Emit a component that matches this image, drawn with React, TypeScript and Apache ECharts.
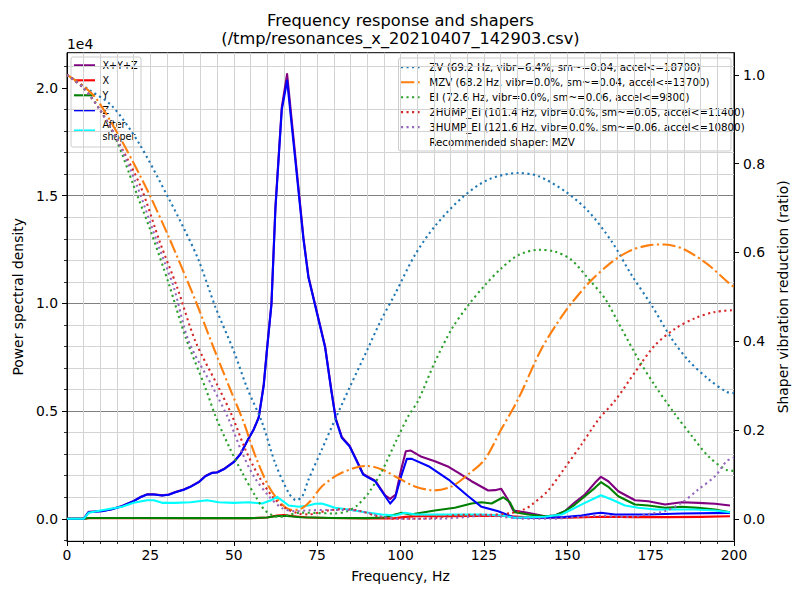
import React, { useEffect, useRef } from "react";
import * as echarts from "echarts";

const TITLE_1 = "Frequency response and shapers";
const TITLE_2 = "(/tmp/resonances_x_20210407_142903.csv)";
const X_NAME = "Frequency, Hz";
const Y_NAME = "Power spectral density";
const Y2_NAME = "Shaper vibration reduction (ratio)";
const psdTicks = [0, 5000, 10000, 15000, 20000];
const ratioTicks = [0, 0.2, 0.4, 0.6, 0.8, 1.0];

const psdLabels = ["X+Y+Z", "X", "Y", "Z", "After\nshaper"];
const psdColors = ["#800080", "#ff0000", "#008000", "#0000ff", "#00ffff"];

const shaperLabels = [
  "ZV (69.2 Hz, vibr=6.4%, sm~=0.04, accel<=18700)",
  "MZV (68.2 Hz, vibr=0.0%, sm~=0.04, accel<=13700)",
  "EI (72.6 Hz, vibr=0.0%, sm~=0.06, accel<=9800)",
  "2HUMP_EI (101.4 Hz, vibr=0.0%, sm~=0.05, accel<=11400)",
  "3HUMP_EI (121.6 Hz, vibr=0.0%, sm~=0.06, accel<=10800)",
];
const shaperColors = ["#1f77b4", "#ff7f0e", "#2ca02c", "#d62728", "#9467bd"];
const recommended = "Recommended shaper: MZV";

const psdSum: [number, number][] = [
  [0, 0], [5, 0], [6.5, 320], [10.5, 360], [13.5, 450], [16.5, 600], [20, 830], [22, 1010], [24, 1135],
  [26, 1140], [28.5, 1090], [30.5, 1130], [32.5, 1245], [35, 1360], [37, 1495], [39.5, 1710], [41.5, 1990],
  [43.5, 2140], [45, 2160], [47, 2310], [50, 2640], [52, 3010], [54.4, 3720], [56, 4160], [57.5, 4720],
  [59, 6250], [60, 7950], [61.3, 10000], [62.5, 14500], [64.4, 19100], [66, 20650], [70.9, 13050],
  [72.4, 11250], [77.4, 8000], [79.2, 6050], [80.6, 4650], [82.4, 3800], [84.7, 3400], [86.5, 2830],
  [88.8, 2080], [90.5, 1930], [92.4, 1770], [95.4, 1090], [96.9, 928], [98.6, 1128], [100.2, 2288],
  [101.6, 3137], [103.1, 3169], [106.3, 2877], [110.3, 2673], [114.4, 2413], [117.4, 2134], [121.3, 1745],
  [126.3, 1313], [128.3, 1330], [130.2, 1392], [132.2, 896], [133.8, 385], [137.3, 300], [140, 220],
  [143.3, 121], [146.3, 153], [149.3, 353], [152.3, 770], [155.3, 1128], [158.3, 1671], [160.1, 1949],
  [162.3, 1745], [165.3, 1281], [170.3, 863], [174.3, 817], [179.3, 664], [184.3, 770], [189.3, 742],
  [194.3, 696], [198.8, 617],
];

const psdX: [number, number][] = [
  [0, 0], [5, 0], [6.5, 30], [30, 25], [55, 25], [60, 60], [63, 150], [65, 170], [68, 121], [72, 60],
  [78, 40], [90, 20], [98, 20], [101.4, 90], [105, 120], [115, 120], [128, 150], [133, 120], [140, 60],
  [150, 50], [160.5, 93], [170, 80], [180, 80], [190, 90], [198.8, 121],
];

const psdY: [number, number][] = [
  [0, 0], [5, 0], [6.5, 40], [20, 40], [40, 30], [55, 30], [60, 60], [63, 130], [66, 130], [70, 70],
  [80, 40], [90, 30], [95, 60], [98.4, 200], [100.4, 278], [103, 200], [110.3, 385], [116.3, 510],
  [121.3, 710], [124.3, 770], [127.3, 710], [130.8, 1002], [132.8, 770], [134.3, 306], [138.3, 200],
  [143.3, 121], [146.3, 153], [149.3, 353], [152.3, 664], [155.3, 1049], [158.3, 1438], [160.1, 1700],
  [162.3, 1485], [165.3, 1049], [170.3, 664], [174.3, 617], [179.3, 510], [184.3, 557], [189.3, 510],
  [194.3, 432], [198.8, 306],
];

const psdZ: [number, number][] = [
  [0, 0], [5, 0], [6.5, 306], [10.5, 350], [13.5, 440], [16.5, 585], [20, 817], [22, 1000], [24, 1128],
  [26, 1130], [28.5, 1081], [30.5, 1120], [32.5, 1235], [35, 1350], [37, 1485], [39.5, 1700], [41.5, 1977],
  [43.5, 2134], [45, 2150], [47, 2300], [50, 2627], [52, 3000], [54.4, 3712], [56, 4150], [57.5, 4700],
  [59, 6200], [60, 7900], [61.3, 9930], [62.5, 14400], [64.4, 18990], [66, 20350], [70.9, 12970],
  [72.4, 11200], [77.4, 7950], [79.2, 6000], [80.6, 4608], [82.4, 3759], [84.7, 3369], [86.5, 2800],
  [88.8, 2056], [90.5, 1900], [92.4, 1745], [95.4, 1049], [96.9, 710], [98.4, 974], [100.2, 1977],
  [101.9, 2784], [103.4, 2784], [108.4, 2441], [114.4, 1824], [120.3, 1049], [124.3, 557], [129.3, 353],
  [134.2, 46], [144, 46], [149, 80], [154.3, 153], [158, 250], [160.1, 278], [164.3, 200], [174.3, 200],
  [184.3, 246], [198.8, 278],
];

const psdShaped: [number, number][] = [
  [0, 0], [5, 0], [6.5, 278], [10.5, 400], [16.5, 557], [20, 742], [24, 863], [26, 860], [28.5, 742],
  [32.5, 742], [37, 770], [42, 863], [45.5, 770], [50, 742], [54.5, 770], [58.5, 710], [61, 850],
  [63, 1021], [66.5, 617], [69.5, 557], [72.4, 617], [74.5, 700], [76.4, 710], [80.4, 510], [84.4, 432],
  [89.4, 306], [94.4, 200], [98.4, 153], [101.4, 278], [104.4, 200], [110.3, 200], [118.3, 200],
  [124.3, 200], [130.3, 153], [134.3, 46], [140, 80], [143.3, 93], [148.3, 200], [151.3, 432],
  [155.3, 742], [160.1, 1095], [163.3, 896], [167.3, 617], [171.3, 510], [176.3, 432], [182.3, 432],
  [188.3, 432], [194.3, 385], [198.8, 306],
];

const zvVals: [number, number][] = [
  [0, 1.0], [6.5, 0.967], [13.5, 0.93], [21.5, 0.847], [30.2, 0.726], [35, 0.655], [39.5, 0.582],
  [44.5, 0.477], [50, 0.378], [54, 0.295], [58.5, 0.217], [62.4, 0.126], [66.5, 0.058], [68.7, 0.042],
  [70.5, 0.05], [72.4, 0.088], [76.4, 0.156], [80.4, 0.224], [85, 0.3], [90, 0.38], [94, 0.445],
  [98.4, 0.507], [104.3, 0.594], [110.3, 0.659], [118.4, 0.723], [126.3, 0.764], [135.3, 0.779],
  [141.3, 0.772], [149.3, 0.738], [156.3, 0.693], [163.3, 0.625], [169.3, 0.549], [175.3, 0.481],
  [181.3, 0.406], [186.3, 0.357], [192.3, 0.315], [197.8, 0.286], [200, 0.283],
];

const mzvVals: [number, number][] = [
  [0, 1.0], [4, 0.98], [8.5, 0.949], [14.5, 0.877], [20, 0.801], [25, 0.726], [30.5, 0.635],
  [38.5, 0.492], [43.5, 0.394], [48.5, 0.3], [53, 0.217], [56.5, 0.141], [60.5, 0.073], [64.5, 0.032],
  [67.5, 0.02], [70, 0.022], [73, 0.04], [76.4, 0.073], [81.4, 0.1], [86.4, 0.115], [90, 0.119],
  [94.4, 0.111], [99.3, 0.092], [104.3, 0.073], [110.3, 0.064], [115.4, 0.073], [120.3, 0.1],
  [125.3, 0.134], [130.1, 0.2], [135.3, 0.27], [142.3, 0.383], [149.3, 0.466], [156.3, 0.53],
  [162.3, 0.572], [168.3, 0.602], [174.3, 0.616], [179.3, 0.618], [185.3, 0.606], [192.3, 0.572],
  [198.3, 0.532], [200, 0.522],
];

const eiVals: [number, number][] = [
  [0, 1.0], [5, 0.97], [10, 0.92], [15, 0.85], [20, 0.75], [25, 0.65], [30.5, 0.53], [35.5, 0.41],
  [41.5, 0.295], [44.5, 0.232], [48.5, 0.164], [52.5, 0.104], [56.5, 0.051], [59.5, 0.018], [63.5, 0.004],
  [66, 0.008], [70, 0.014], [75, 0.013], [80, 0.012], [84, 0.017], [87, 0.03], [90.4, 0.058],
  [94.4, 0.107], [98.4, 0.171], [102.4, 0.232], [105.3, 0.266], [110.3, 0.353], [115.4, 0.428],
  [120.3, 0.481], [125.3, 0.526], [130.2, 0.564], [135.3, 0.594], [141.3, 0.606], [146.3, 0.602],
  [151.3, 0.583], [156.3, 0.541], [161.3, 0.496], [166.3, 0.428], [171.3, 0.36], [176.3, 0.3],
  [182.3, 0.236], [187.3, 0.187], [192.3, 0.141], [197.8, 0.11], [200, 0.108],
];

const hump2Vals: [number, number][] = [
  [0, 1.0], [5, 0.97], [10, 0.92], [15, 0.855], [22, 0.75], [28, 0.62], [33, 0.522], [38.5, 0.4],
  [45.5, 0.295], [49.5, 0.232], [53.5, 0.156], [57.5, 0.096], [61.5, 0.051], [65.5, 0.024], [69.5, 0.012],
  [72.4, 0.01], [78.4, 0.019], [83.4, 0.022], [88.2, 0.017], [93.4, 0.005], [98.3, 0.0], [104, 0.0],
  [110.3, 0.002], [118.4, 0.009], [126.3, 0.009], [133.3, 0.013], [137.3, 0.022], [139.4, 0.032],
  [144.3, 0.064], [149.3, 0.115], [154.3, 0.168], [159.4, 0.224], [164.3, 0.266], [170.3, 0.33],
  [176.3, 0.391], [182.3, 0.428], [188.3, 0.452], [194.3, 0.466], [200, 0.47],
];

const hump3Vals: [number, number][] = [
  [0, 1.0], [5, 0.97], [10, 0.92], [15, 0.855], [21, 0.75], [27.5, 0.613], [32, 0.522], [36.5, 0.4],
  [43.8, 0.295], [48.5, 0.224], [52.5, 0.149], [56, 0.096], [60.5, 0.051], [64.5, 0.024], [68.5, 0.017],
  [72.4, 0.019], [78.4, 0.02], [83.4, 0.02], [88.2, 0.017], [94.4, 0.005], [100, 0.0], [110, 0.0],
  [120, 0.004], [125, 0.008], [130, 0.005], [135, 0.001], [140, 0.0], [145, 0.0], [150, 0.002],
  [155, 0.005], [160, 0.007], [165, 0.005], [170, 0.005], [174.3, 0.011], [179.3, 0.017], [184.3, 0.036],
  [189.3, 0.066], [194.3, 0.096], [197.8, 0.13], [200, 0.138],
];

const psdSeries = [psdSum, psdX, psdY, psdZ, psdShaped];
const shaperSeries = [zvVals, mzvVals, eiVals, hump2Vals, hump3Vals];
const recommendedIndex = 1;

const FONT = "DejaVu Sans";
const DOT = [2.1, 3.4];
const DASHDOT = [13.3, 3.3, 2.1, 3.3];

export default function App() {
  const ref = useRef<HTMLDivElement>(null);

  useEffect(() => {
    document.body.style.margin = "0";
    if (!ref.current) return;
    const chart = echarts.init(ref.current, null, { renderer: "svg" });

    const series: any[] = [];
    psdSeries.forEach((d, i) => {
      series.push({
        type: "line",
        name: psdLabels[i],
        data: d,
        yAxisIndex: 0,
        showSymbol: false,
        symbol: "none",
        silent: true,
        lineStyle: { color: psdColors[i], width: 2.1, cap: "butt", join: "round" },
        z: 2,
      });
    });
    shaperSeries.forEach((d, i) => {
      series.push({
        type: "line",
        name: shaperLabels[i],
        data: d,
        yAxisIndex: 1,
        showSymbol: false,
        symbol: "none",
        silent: true,
        smooth: 0.3,
        lineStyle: {
          color: shaperColors[i],
          width: 2.1,
          type: i === recommendedIndex ? DASHDOT : DOT,
          cap: "butt",
        },
        z: 3,
      });
    });

    // left legend
    const leftItems: any[] = [
      {
        type: "rect",
        shape: { x: 71, y: 57, width: 70, height: 90, r: 2 },
        style: { fill: "rgba(255,255,255,0.8)", stroke: "#cccccc", lineWidth: 1 },
      },
    ];
    const leftRows = [65.3, 80.3, 95.3, 110.3, 130.5];
    psdLabels.forEach((lab, i) => {
      const y = leftRows[i];
      leftItems.push({
        type: "line",
        shape: { x1: 74, y1: y, x2: 95, y2: y },
        style: { stroke: psdColors[i], lineWidth: 2.1 },
      });
      leftItems.push({
        type: "text",
        x: 102.5,
        y: y,
        style: {
          text: lab,
          fill: "#000",
          fontSize: 9.6,
          fontFamily: FONT,
          verticalAlign: "middle",
          align: "left",
          lineHeight: 12,
        },
      });
    });

    const rightItems: any[] = [
      {
        type: "rect",
        shape: { x: 398.5, y: 58, width: 332.5, height: 93, r: 2 },
        style: { fill: "rgba(255,255,255,0.8)", stroke: "#cccccc", lineWidth: 1 },
      },
    ];
    const rowY = (i: number) => 67.3 + i * 14.95;
    shaperLabels.forEach((lab, i) => {
      const y = rowY(i);
      rightItems.push({
        type: "line",
        shape: { x1: 401, y1: y, x2: 421, y2: y },
        style: {
          stroke: shaperColors[i],
          lineWidth: 2.1,
          lineDash: i === recommendedIndex ? DASHDOT : DOT,
          lineCap: "butt",
        },
      });
      rightItems.push({
        type: "text",
        x: 429.3,
        y: y,
        style: { text: lab, fill: "#000", fontSize: 10.3, fontFamily: FONT, verticalAlign: "middle", align: "left" },
      });
    });
    rightItems.push({
      type: "text",
      x: 429.3,
      y: rowY(5),
      style: { text: recommended, fill: "#000", fontSize: 10.3, fontFamily: FONT, verticalAlign: "middle", align: "left" },
    });

    const titleStyle = {
      fill: "#000",
      fontSize: 16.2,
      fontFamily: FONT,
      align: "center",
      verticalAlign: "middle",
      lineHeight: 17,
    };

    const option: any = {
      animation: false,
      textStyle: { fontFamily: FONT },
      grid: {
        left: 67,
        right: 66,
        top: 52.7,
        bottom: 59,
        show: true,
        borderColor: "#000",
        borderWidth: 1,
        backgroundColor: "transparent",
        containLabel: false,
      },
      xAxis: {
        type: "value",
        min: 0,
        max: 200,
        interval: 25,
        name: X_NAME,
        nameLocation: "middle",
        nameGap: 28,
        nameTextStyle: { fontSize: 13.9, color: "#000", fontFamily: FONT },
        axisLine: { show: true, onZero: false, lineStyle: { color: "#000", width: 1 } },
        axisTick: { show: true, inside: false, length: 5, lineStyle: { color: "#000", width: 1 } },
        minorTick: { show: true, splitNumber: 5, length: 3, lineStyle: { color: "#000", width: 0.8 } },
        axisLabel: { fontSize: 13.9, color: "#000", fontFamily: FONT, margin: 7 },
        splitLine: { show: true, showMinLine: false, showMaxLine: false, lineStyle: { color: "#d3d3d3", width: 1 } },
        minorSplitLine: { show: true, lineStyle: { color: "#d3d3d3", width: 1 } },
      },
      yAxis: [
        {
          type: "value",
          position: "left",
          min: -1030,
          max: 21640,
          splitNumber: 5,
          name: Y_NAME,
          nameLocation: "middle",
          nameGap: 37,
          nameTextStyle: { fontSize: 13.9, color: "#000", fontFamily: FONT },
          axisLine: { show: true, onZero: false, lineStyle: { color: "#000", width: 1 } },
          axisTick: { show: true, inside: false, length: 5, customValues: psdTicks, lineStyle: { color: "#000", width: 1 } },
          minorTick: { show: true, splitNumber: 5, length: 3, lineStyle: { color: "#000", width: 0.8 } },
          axisLabel: {
            fontSize: 13.9,
            color: "#000",
            fontFamily: FONT,
            margin: 9,
            customValues: psdTicks,
            formatter: (v: number) => (v / 10000).toFixed(1),
          },
          splitLine: { show: true, showMinLine: false, showMaxLine: false, lineStyle: { color: "#808080", width: 1 } },
          minorSplitLine: { show: true, lineStyle: { color: "#d3d3d3", width: 1 } },
        },
        {
          type: "value",
          position: "right",
          min: -0.05,
          max: 1.05,
          splitNumber: 5,
          name: Y2_NAME,
          nameLocation: "middle",
          nameGap: 23,
          nameRotate: 90,
          nameTextStyle: { fontSize: 13.9, color: "#000", fontFamily: FONT },
          axisLine: { show: true, onZero: false, lineStyle: { color: "#000", width: 1 } },
          axisTick: { show: true, inside: false, length: 5, customValues: ratioTicks, lineStyle: { color: "#000", width: 1 } },
          axisLabel: {
            fontSize: 13.9,
            color: "#000",
            fontFamily: FONT,
            margin: 9,
            customValues: ratioTicks,
            formatter: (v: number) => v.toFixed(1),
          },
          splitLine: { show: false },
        },
      ],
      graphic: [
        { type: "text", x: 400.5, y: 20.5, z: 5, style: { ...titleStyle, text: TITLE_1 } },
        { type: "text", x: 400.5, y: 38, z: 5, style: { ...titleStyle, text: TITLE_2 } },
        {
          type: "text",
          x: 67,
          y: 44,
          z: 5,
          style: { text: "1e4", fill: "#000", fontSize: 13.9, fontFamily: FONT, verticalAlign: "middle", align: "left" },
        },
        { type: "group", z: 1, children: leftItems },
        { type: "group", z: 10, children: rightItems },
      ],
      series,
    };

    chart.setOption(option);
    return () => chart.dispose();
  }, []);

  return (
    <div
      ref={ref}
      style={{ position: "fixed", left: 0, top: 0, width: 800, height: 600, background: "#fff" }}
    />
  );
}
